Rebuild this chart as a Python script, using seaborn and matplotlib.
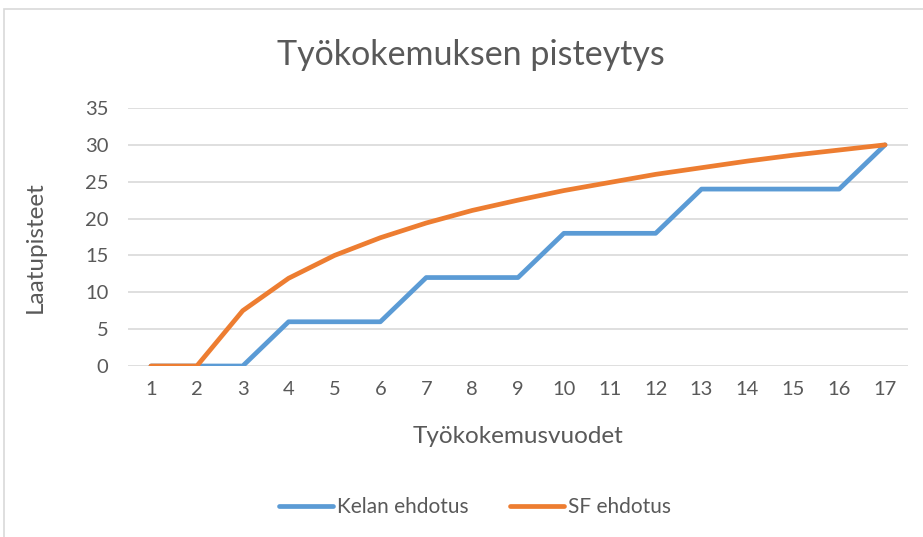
import pandas as pd
import matplotlib.pyplot as plt
import seaborn as sns
from matplotlib.patches import Rectangle

# Data
years = list(range(1, 18))
kela = [0, 0, 0, 6, 6, 6, 12, 12, 12, 18, 18, 18, 24, 24, 24, 24, 30]
sf = [0, 0, 7.5, 11.9, 15, 17.4, 19.4, 21.1, 22.5, 23.8, 24.9, 26, 26.9, 27.8, 28.6, 29.3, 30]
series_names = ["Kelan ehdotus", "SF ehdotus"]
colors = ["#5B9BD5", "#ED7D31"]

df = pd.DataFrame({
    "vuosi": years * 2,
    "pisteet": kela + sf,
    "sarja": [series_names[0]] * len(years) + [series_names[1]] * len(years),
})

sns.set_style("white")
plt.rcParams["font.family"] = ["Lato", "DejaVu Sans"]
text_col = "#595959"

fig = plt.figure(figsize=(9.23, 5.37), dpi=100)
ax = fig.add_axes([128 / 923, (537 - 366) / 537, (908 - 128) / 923, (366 - 108) / 537])

sns.lineplot(data=df, x="vuosi", y="pisteet", hue="sarja", palette=colors,
             linewidth=3.4, ax=ax, legend=True,
             solid_joinstyle="round", solid_capstyle="round")

ax.set_xlim(0.5, 17.5)
ax.set_ylim(0, 35)
ax.set_xticks(years)
ax.set_yticks(range(0, 36, 5))
ax.grid(axis="y", color="#D9D9D9", linewidth=1.2)
ax.set_axisbelow(True)
for s in ax.spines.values():
    s.set_visible(False)
ax.tick_params(axis="both", length=0, labelsize=14.5, colors=text_col)
ax.tick_params(axis="x", pad=11)
ax.tick_params(axis="y", pad=14)

ax.set_xlabel("Työkokemusvuodet", fontsize=17.5, color=text_col)
ax.xaxis.set_label_coords((518 - 128) / (908 - 128), -(426 - 366) / (366 - 108))
ax.set_ylabel("Laatupisteet", fontsize=17.5, color=text_col)
ax.yaxis.set_label_coords(-(128 - 46) / (908 - 128), (366 - 247) / (366 - 108))
fig.text(471 / 923, 1 - 55 / 537, "Työkokemuksen pisteytys", ha="center", va="center",
         fontsize=24.5, color=text_col)

handles, labels = ax.get_legend_handles_labels()
for h in handles:
    h.set_solid_capstyle("round")
ax.legend(handles, labels, loc="center", bbox_to_anchor=(475 / 923, 1 - 507 / 537),
          bbox_transform=fig.transFigure, ncol=2, frameon=False, fontsize=15,
          labelcolor=text_col, handlelength=2.6, handletextpad=0.2, columnspacing=2.0)

fig.patches.append(Rectangle((4 / 923, -0.01), 1.0, 1 - 9 / 537 + 0.01,
                             transform=fig.transFigure, fill=False,
                             edgecolor="#D9D9D9", linewidth=1.2))

fig.savefig("out.png", dpi=100)
